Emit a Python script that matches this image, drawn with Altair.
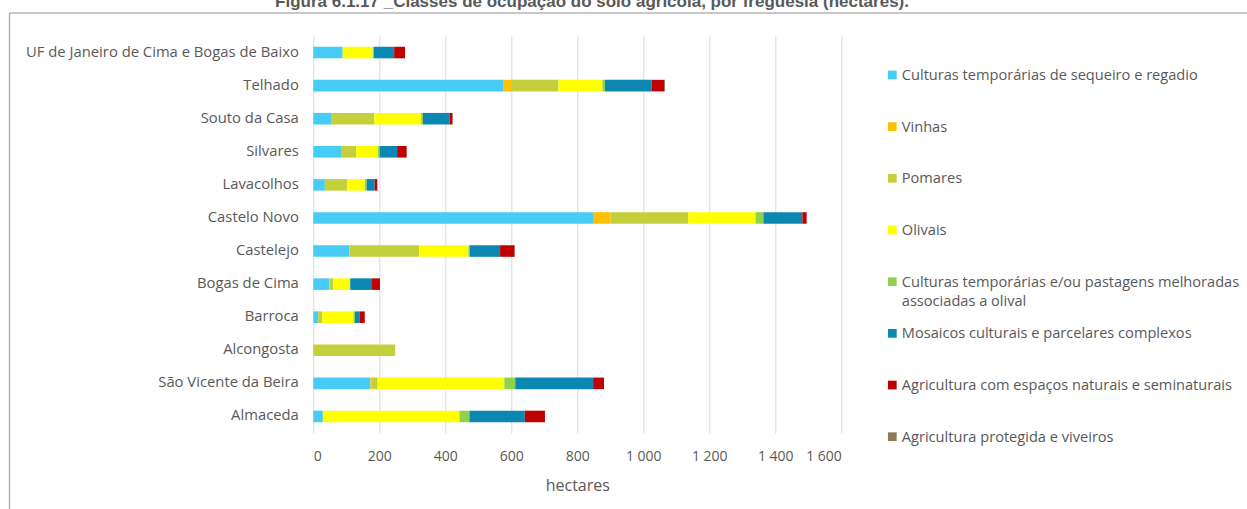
import altair as alt
import pandas as pd

# Freguesias, de cima para baixo
freguesias = [
    "UF de Janeiro de Cima e Bogas de Baixo",
    "Telhado",
    "Souto da Casa",
    "Silvares",
    "Lavacolhos",
    "Castelo Novo",
    "Castelejo",
    "Bogas de Cima",
    "Barroca",
    "Alcongosta",
    "São Vicente da Beira",
    "Almaceda",
]

# Classes de ocupação agrícola (ordem de empilhamento)
classes = [
    "Culturas temporárias de sequeiro e regadio",
    "Vinhas",
    "Pomares",
    "Olivais",
    "Culturas temporárias e/ou pastagens melhoradas associadas a olival",
    "Mosaicos culturais e parcelares complexos",
    "Agricultura com espaços naturais e seminaturais",
    "Agricultura protegida e viveiros",
]

rotulos_legenda = [
    "Culturas temporárias de sequeiro e regadio",
    "Vinhas",
    "Pomares",
    "Olivais",
    "Culturas temporárias e/ou pastagens melhoradas\nassociadas a olival",
    "Mosaicos culturais e parcelares complexos",
    "Agricultura com espaços naturais e seminaturais",
    "Agricultura protegida e viveiros",
]

cores = ["#47CCF7", "#FFC000", "#C3D03B", "#FFFF00", "#92D050", "#0A88B2", "#C00000", "#8B7B57"]

# Área (hectares) por classe, na ordem das freguesias
culturas_sequeiro = [89, 577, 56, 84, 35, 850, 109, 49, 15, 0, 173, 29]
vinhas = [0, 22, 0, 0, 0, 51, 0, 0, 0, 0, 5, 0]
pomares = [0, 144, 129, 46, 67, 235, 212, 12, 12, 248, 17, 0]
olivais = [91, 133, 142, 66, 54, 204, 149, 50, 95, 0, 384, 414]
culturas_olival = [4, 8, 5, 5, 6, 24, 4, 1, 4, 0, 33, 30]
mosaicos = [61, 141, 81, 53, 24, 118, 92, 66, 15, 0, 236, 168]
agricultura_naturais = [33, 38, 9, 29, 8, 13, 44, 24, 15, 0, 33, 61]
agricultura_protegida = [0, 3, 0, 0, 0, 0, 0, 0, 0, 0, 0, 0]

marcas_x = [0, 200, 400, 600, 800, 1000, 1200, 1400, 1600]

titulo = "Figura 6.1.17 _Classes de ocupação do solo agrícola, por freguesia (hectares)."

series = [culturas_sequeiro, vinhas, pomares, olivais, culturas_olival,
          mosaicos, agricultura_naturais, agricultura_protegida]

linhas = []
for ordem, (classe, valores) in enumerate(zip(classes, series)):
    for freg, v in zip(freguesias, valores):
        linhas.append({"freguesia": freg, "classe": classe, "ordem": ordem, "hectares": v})
dados = pd.DataFrame(linhas)

legenda = pd.DataFrame({"classe": classes, "rotulo": rotulos_legenda})

CINZA = "#595959"
FONTE = "Open Sans"

cor = alt.Color("classe:N", scale=alt.Scale(domain=classes, range=cores), legend=None)

barras = alt.Chart(dados).mark_bar().encode(
    x=alt.X(
        "hectares:Q",
        stack="zero",
        scale=alt.Scale(domain=[0, 1600], nice=False),
        axis=alt.Axis(
            values=marcas_x,
            title="hectares",
            labelExpr="replace(format(datum.value, ','), ',', ' ')",
            grid=True,
            gridColor="#D9D9D9",
            gridWidth=1,
            ticks=False,
            domain=False,
            labelPadding=16,
            labelFontSize=14,
            labelFont=FONTE,
            labelColor=CINZA,
            titleFont=FONTE,
            titleFontSize=16,
            titleFontWeight="normal",
            titleColor=CINZA,
            titlePadding=14,
        ),
    ),
    y=alt.Y(
        "freguesia:N",
        sort=freguesias,
        scale=alt.Scale(paddingInner=0.65, paddingOuter=0.325),
        axis=alt.Axis(
            title=None,
            ticks=False,
            domain=False,
            grid=False,
            labelPadding=15,
            labelFontSize=14.8,
            labelFont=FONTE,
            labelColor=CINZA,
            labelLimit=400,
        ),
    ),
    color=cor,
    order=alt.Order("ordem:Q"),
)

# Legenda desenhada com marcas próprias (permite rótulo em duas linhas)
escala_leg = alt.Scale(type="point", domain=classes, range=[39, 400.7], padding=0)

leg_simbolos = alt.Chart(legenda).mark_square(size=76, opacity=1).encode(
    x=alt.value(579),
    y=alt.Y("classe:N", scale=escala_leg, axis=None),
    color=cor,
)

leg_textos = alt.Chart(legenda).mark_text(
    align="left", baseline="top", dy=-7, lineBreak="\n", lineHeight=19.5,
    font=FONTE, fontSize=14.6, color=CINZA,
).encode(
    x=alt.value(588.5),
    y=alt.Y("classe:N", scale=escala_leg, axis=None),
    text="rotulo:N",
)

# Título da figura, junto ao topo
titulo_marca = alt.Chart(pd.DataFrame({"t": [titulo]})).mark_text(
    align="center", baseline="alphabetic", font="Liberation Sans",
    fontSize=17, fontWeight="bold", color=CINZA,
).encode(x=alt.value(278.7), y=alt.value(-29), text="t:N")

# Moldura da figura (topo e lado esquerdo)
moldura_dados = pd.DataFrame({"k": [0]})
moldura_topo = alt.Chart(moldura_dados).mark_rule(color="#B4B4B4", strokeWidth=1.5).encode(
    x=alt.value(-303.8), x2=alt.value(960), y=alt.value(-23)
)
moldura_esq = alt.Chart(moldura_dados).mark_rule(color="#B4B4B4", strokeWidth=1.5).encode(
    x=alt.value(-303.8), y=alt.value(-23), y2=alt.value(500)
)

chart = (
    alt.layer(barras, leg_simbolos, leg_textos, titulo_marca, moldura_topo, moldura_esq)
    .resolve_scale(y="independent")
    .properties(
        width=528,
        height=397,
        autosize=alt.AutoSizeParams(type="none"),
        padding={"left": 313.3, "top": 36, "right": 405.7, "bottom": 76},
    )
    .configure_view(stroke=None)
)

chart.save("out.html", embed_options={"renderer": "svg", "actions": False})
